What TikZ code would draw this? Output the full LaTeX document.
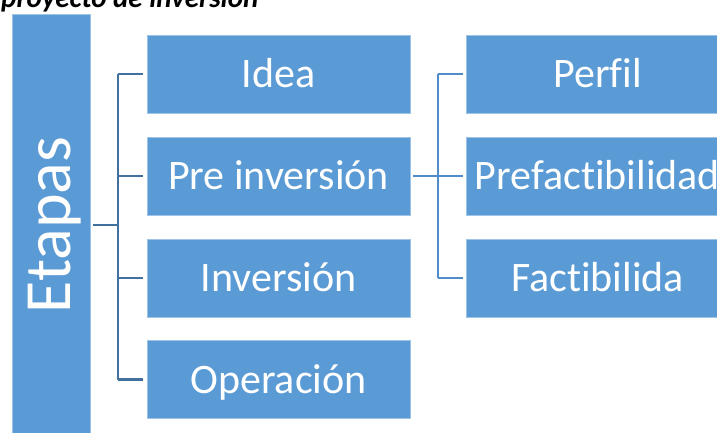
\documentclass[tikz,border=0pt]{standalone}
\usepackage{fontspec}
\setmainfont{Carlito}[Ligatures={TeX,NoCommon}]
\definecolor{boxblue}{HTML}{5B9BD5}
\definecolor{edgeblue}{HTML}{41719C}
\definecolor{linkblue}{HTML}{4F8CC9}
\tikzset{
  stagebox/.style={rectangle, fill=boxblue, draw=boxblue!60!white, line width=0.6pt,
    minimum width=263pt, minimum height=78pt, inner sep=0pt, text=white,
    font=\fontsize{42}{50}\selectfont, text height=27pt, text depth=0pt},
  linkL/.style={draw=edgeblue, line width=2.4pt},
  linkR/.style={draw=linkblue, line width=2.4pt}
}
\begin{document}
\begin{tikzpicture}[x=1pt, y=-1pt]
  \useasboundingbox (0,0) rectangle (717,433);
  \clip (0,0) rectangle (717,433);
  % title, cut at the top
  \node[anchor=base west, inner sep=0pt, font=\fontsize{29}{34}\selectfont\bfseries\itshape]
    (title) at (1,8) {proyecto de inversión};
  % stages
  \node[rectangle, fill=boxblue, draw=boxblue!60!white, line width=0.6pt,
    minimum width=78pt, minimum height=422pt, inner sep=0pt] (etapas) at (51,225) {};
  \node[rotate=90, anchor=base, inner sep=0pt, text=white,
    font=\fontsize{66}{78}\selectfont] (etapaslbl) at (70,225) {Etapas};
  \foreach \name/\y/\txt in {idea/74/Idea, pre/176/Pre inversión,
      inv/278/Inversión, ope/379.5/Operación}
    \node[stagebox] (\name) at (278.5,\y) {\txt};
  \foreach \name/\y/\txt in {perfil/74/Perfil, prefac/176/Prefactibilidad,
      fac/278/Factibilida}
    \node[stagebox] (\name) at (597.5,\y) {\txt};
  % left bracket
  \coordinate (spineL) at (118,0);
  \draw[linkL] ([xshift=3pt]etapas.east) -- (etapas.east -| spineL);
  \draw[linkL] (idea.west -| spineL) -- (ope.west -| spineL);
  \foreach \name in {idea,pre,inv,ope}
    \draw[linkL] (\name.west -| spineL) -- ([xshift=-4pt]\name.west);
  % right bracket
  \coordinate (spineR) at (438,0);
  \draw[linkR] ([xshift=3pt]pre.east) -- (pre.east -| spineR);
  \draw[linkR] (perfil.west -| spineR) -- (fac.west -| spineR);
  \foreach \name in {perfil,prefac,fac}
    \draw[linkR] (\name.west -| spineR) -- ([xshift=-3pt]\name.west);
\end{tikzpicture}
\end{document}
